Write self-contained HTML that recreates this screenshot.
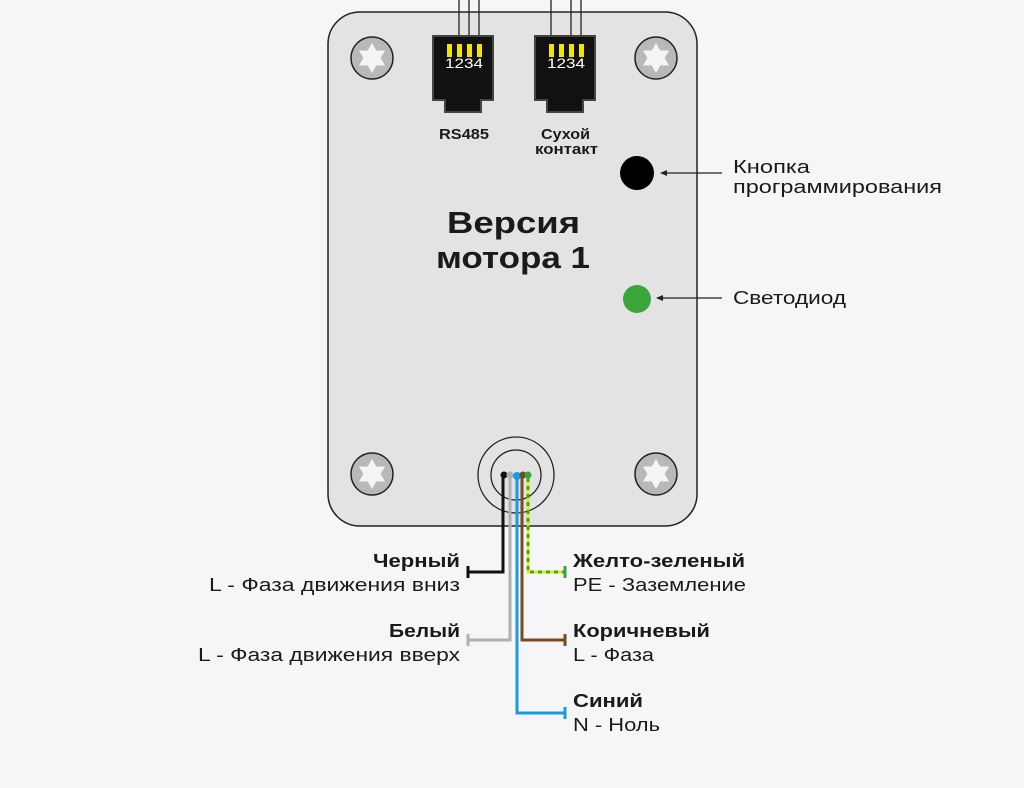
<!DOCTYPE html>
<html><head><meta charset="utf-8"><style>
body{margin:0;background:#f6f6f8;width:1024px;height:788px;overflow:hidden}
svg{display:block}
text{font-family:"Liberation Sans","DejaVu Sans",sans-serif;fill:#1a1a1a}
.b{font-weight:bold;font-size:18px}
.n{font-size:18px}
</style></head><body>
<svg width="1024" height="788" viewBox="0 0 1024 788">
<defs>
<g id="scr"><circle r="21" fill="#b8b8b8" stroke="#222" stroke-width="1.5"/>
<polygon points="0,-15 4.3,-7.5 13,-7.5 8.6,0 13,7.5 4.3,7.5 0,15 -4.3,7.5 -13,7.5 -8.6,0 -13,-7.5 -4.3,-7.5" fill="#f4f4f4"/></g>
<g id="jack">
<path d="M0,0 H60 V64 H48 V76 H12 V64 H0 Z" fill="#111" stroke="#444" stroke-width="2"/>
<rect x="14" y="8" width="5" height="13" fill="#f5e400"/><rect x="24" y="8" width="5" height="13" fill="#f5e400"/>
<rect x="34" y="8" width="5" height="13" fill="#f5e400"/><rect x="44" y="8" width="5" height="13" fill="#f5e400"/>
<text x="31" y="32" text-anchor="middle" textLength="38" lengthAdjust="spacingAndGlyphs" style="fill:#fff;font-size:14px">1234</text>
</g>
</defs>
<rect x="328" y="12" width="369" height="514" rx="32" fill="#e3e3e3" stroke="#222" stroke-width="1.5"/>
<g stroke="#222" stroke-width="1.3">
<line x1="459" y1="0" x2="459" y2="44"/><line x1="469" y1="0" x2="469" y2="44"/><line x1="479" y1="0" x2="479" y2="44"/>
<line x1="551" y1="0" x2="551" y2="44"/><line x1="571" y1="0" x2="571" y2="44"/><line x1="581" y1="0" x2="581" y2="44"/>
</g>
<use href="#jack" x="433" y="36"/>
<use href="#jack" x="535" y="36"/>
<text x="439" y="139" class="b" style="font-size:15px" textLength="50" lengthAdjust="spacingAndGlyphs">RS485</text>
<text x="541" y="139" class="b" style="font-size:15px" textLength="49" lengthAdjust="spacingAndGlyphs">Сухой</text>
<text x="535" y="154" class="b" style="font-size:15px" textLength="63" lengthAdjust="spacingAndGlyphs">контакт</text>
<use href="#scr" x="372" y="58"/><use href="#scr" x="656" y="58"/>
<use href="#scr" x="372" y="474"/><use href="#scr" x="656" y="474"/>
<text x="447" y="233" style="font-weight:bold;font-size:31px" textLength="133" lengthAdjust="spacingAndGlyphs">Версия</text>
<text x="436" y="268" style="font-weight:bold;font-size:31px" textLength="154" lengthAdjust="spacingAndGlyphs">мотора 1</text>
<circle cx="637" cy="173" r="17" fill="#000"/>
<line x1="662" y1="173" x2="722" y2="173" stroke="#222" stroke-width="1.2"/><polygon points="660,173 667,170 667,176" fill="#222"/>
<text x="733" y="173" class="n" textLength="77" lengthAdjust="spacingAndGlyphs">Кнопка</text>
<text x="733" y="193" class="n" textLength="209" lengthAdjust="spacingAndGlyphs">программирования</text>
<circle cx="637" cy="299" r="14" fill="#3aa63a"/>
<line x1="658" y1="298" x2="722" y2="298" stroke="#222" stroke-width="1.2"/><polygon points="656,298 663,295 663,301" fill="#222"/>
<text x="733" y="304" class="n" textLength="113" lengthAdjust="spacingAndGlyphs">Светодиод</text>
<circle cx="516" cy="475" r="38" fill="none" stroke="#222" stroke-width="1.3"/>
<circle cx="516" cy="475" r="25" fill="none" stroke="#222" stroke-width="1.3"/>
<g fill="none" stroke-width="3">
<path d="M503,474 V572 H468" stroke="#111"/><line x1="468" y1="566" x2="468" y2="578" stroke="#111"/>
<path d="M510,474 V640 H468" stroke="#b0b0b0"/><line x1="468" y1="634" x2="468" y2="646" stroke="#b0b0b0"/>
<path d="M517,474 V713 H565" stroke="#1a9be0"/><line x1="565" y1="707" x2="565" y2="719" stroke="#1a9be0"/>
<path d="M522,474 V640 H565" stroke="#7a4a1e"/><line x1="565" y1="634" x2="565" y2="646" stroke="#7a4a1e"/>
<path d="M528,474 V572 H565" stroke="#3aa63a"/>
<path d="M528,474 V572 H565" stroke="#f2e600" stroke-dasharray="4 4"/><line x1="565" y1="566" x2="565" y2="578" stroke="#3aa63a"/>
</g>
<circle cx="504" cy="475" r="3.5" fill="#111"/><circle cx="510" cy="475" r="3.5" fill="#b0b0b0"/>
<circle cx="517" cy="476" r="4" fill="#1a9be0"/><circle cx="523" cy="475" r="3.5" fill="#7a4a1e"/><circle cx="528" cy="475" r="3.5" fill="#3aa63a"/>
<text x="373" y="567" class="b" textLength="87" lengthAdjust="spacingAndGlyphs">Черный</text>
<text x="209" y="591" class="n" textLength="251" lengthAdjust="spacingAndGlyphs">L - Фаза движения вниз</text>
<text x="389" y="637" class="b" textLength="71" lengthAdjust="spacingAndGlyphs">Белый</text>
<text x="198" y="661" class="n" textLength="262" lengthAdjust="spacingAndGlyphs">L - Фаза движения вверх</text>
<text x="573" y="567" class="b" textLength="172" lengthAdjust="spacingAndGlyphs">Желто-зеленый</text>
<text x="573" y="591" class="n" textLength="173" lengthAdjust="spacingAndGlyphs">PE - Заземление</text>
<text x="573" y="637" class="b" textLength="137" lengthAdjust="spacingAndGlyphs">Коричневый</text>
<text x="573" y="661" class="n" textLength="81" lengthAdjust="spacingAndGlyphs">L - Фаза</text>
<text x="573" y="707" class="b" textLength="70" lengthAdjust="spacingAndGlyphs">Синий</text>
<text x="573" y="731" class="n" textLength="87" lengthAdjust="spacingAndGlyphs">N - Ноль</text>
</svg>
</body></html>
